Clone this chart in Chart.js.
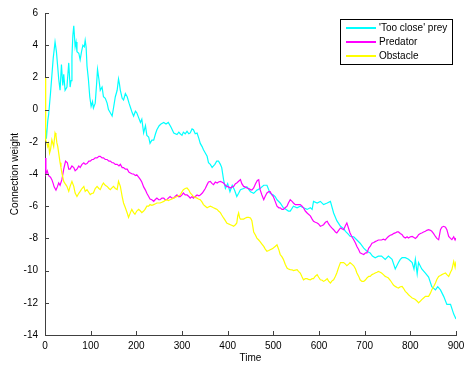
<!DOCTYPE html>
<html>
<head>
<meta charset="utf-8">
<script src="https://cdn.jsdelivr.net/npm/chart.js@4.4.0/dist/chart.umd.min.js"></script>
<style>
  html, body { margin: 0; padding: 0; background: #fff; }
  canvas { display: block; }
</style>
</head>
<body>
<canvas id="myChart" width="464" height="367"></canvas>
<script>
// data

const seriesNames = ["'Too close' prey", 'Predator', 'Obstacle']
const seriesColors = ['#00ffff', '#ff00ff', '#ffff00']

const xTicks = [0, 100, 200, 300, 400, 500, 600, 700, 800, 900]
const yTicks = [-14, -12, -10, -8, -6, -4, -2, 0, 2, 4, 6]

const preyX = [0, 3, 6, 8, 12, 15, 18, 22, 25, 28, 30, 33, 36, 39, 41, 44, 48, 52, 55, 57, 59, 61, 63, 66, 68, 70, 74, 77, 80, 83, 86, 88, 90, 92, 95, 98, 101, 104, 106, 110, 113, 115, 118, 121, 125, 128, 132, 136, 139, 143, 147, 150, 154, 158, 161, 163, 165, 169, 172, 176, 180, 184, 187, 191, 194, 198, 201, 205, 209, 212, 216, 220, 223, 227, 230, 234, 238, 242, 245, 250, 254, 260, 265, 270, 276, 282, 289, 293, 296, 300, 303, 307, 311, 315, 318, 322, 325, 329, 333, 337, 340, 344, 347, 351, 355, 358, 362, 366, 369, 372, 376, 380, 384, 387, 391, 395, 400, 405, 410, 415, 420, 424, 428, 435, 442, 450, 457, 464, 471, 479, 486, 493, 500, 504, 508, 515, 522, 528, 533, 537, 544, 552, 559, 566, 574, 581, 585, 588, 596, 603, 610, 618, 625, 632, 639, 647, 654, 658, 663, 668, 676, 683, 690, 698, 705, 712, 717, 723, 730, 737, 745, 752, 760, 767, 774, 778, 782, 789, 796, 804, 808, 811, 815, 818, 825, 833, 840, 847, 855, 860, 866, 873, 880, 888, 895, 900]
const preyY = [-0.8, -1.8, -0.7, -0.3, 1.0, 2.1, 3.2, 4.2, 3.6, 2.6, 1.9, 1.2, 2.8, 1.5, 2.2, 1.2, 1.4, 2.9, 1.4, 1.8, 3.3, 4.6, 5.2, 3.9, 4.2, 3.6, 3.5, 3.1, 3.6, 4.0, 3.9, 4.3, 3.9, 2.7, 1.9, 0.8, 0.2, 0.5, 0.1, 0.4, 1.6, 2.5, 1.9, 1.2, 1.4, 0.8, 0.7, 0.4, 0.0, -0.2, -0.4, 0.1, 0.8, 1.2, 1.9, 1.6, 1.2, 0.7, 0.6, 1.0, 0.8, 0.4, 0.15, -0.2, -0.4, -0.1, -0.2, -0.5, -0.8, -0.6, -1.45, -1.0, -1.6, -1.7, -2.1, -1.9, -1.9, -1.5, -1.25, -1.0, -0.9, -0.8, -0.9, -0.8, -1.1, -1.45, -1.55, -1.4, -1.5, -1.6, -1.4, -1.5, -1.35, -1.5, -1.45, -1.2, -1.25, -1.5, -1.45, -1.8, -2.1, -2.3, -2.5, -2.7, -2.9, -3.3, -3.4, -3.6, -3.5, -3.4, -3.2, -3.2, -3.4, -3.6, -4.35, -4.9, -4.6, -5.1, -4.7, -5.0, -5.4, -5.2, -4.97, -4.9, -4.8, -5.1, -5.2, -5.0, -4.9, -4.7, -4.7, -5.2, -5.3, -5.4, -5.6, -5.8, -6.1, -6.2, -6.3, -6.3, -6.0, -6.1, -6.0, -6.1, -6.2, -6.1, -6.2, -5.7, -5.8, -5.7, -5.9, -5.8, -5.7, -6.42, -6.9, -7.25, -7.4, -7.56, -7.7, -7.87, -7.9, -8.1, -8.3, -8.6, -8.8, -8.9, -9.1, -9.2, -9.1, -9.1, -9.3, -9.1, -9.3, -9.9, -9.5, -9.3, -9.2, -9.2, -9.3, -9.5, -9.9, -9.3, -10.2, -9.5, -9.9, -10.15, -10.4, -11.0, -11.2, -11.0, -11.2, -11.6, -12.1, -12.1, -12.7, -13.0]

const predX = [0, 2, 5, 8, 12, 15, 18, 20, 24, 27, 30, 33, 37, 41, 45, 49, 52, 55, 59, 63, 66, 70, 74, 77, 81, 85, 88, 92, 96, 99, 103, 106, 110, 114, 118, 121, 125, 128, 132, 136, 140, 143, 147, 150, 154, 158, 162, 165, 169, 172, 176, 180, 184, 187, 191, 194, 198, 201, 205, 209, 212, 216, 220, 223, 227, 230, 234, 238, 241, 245, 249, 252, 256, 260, 263, 267, 270, 274, 278, 282, 285, 289, 292, 296, 300, 303, 307, 311, 315, 318, 322, 325, 329, 333, 337, 340, 344, 347, 351, 355, 358, 362, 366, 369, 373, 377, 380, 384, 387, 391, 395, 398, 402, 406, 410, 413, 417, 420, 424, 428, 431, 435, 438, 442, 446, 450, 453, 457, 461, 465, 468, 471, 475, 479, 482, 486, 490, 493, 497, 500, 504, 508, 512, 515, 519, 522, 526, 530, 533, 537, 541, 544, 548, 552, 555, 559, 563, 566, 570, 574, 577, 581, 585, 588, 592, 596, 599, 603, 607, 610, 614, 618, 621, 625, 628, 632, 636, 639, 643, 647, 650, 654, 658, 661, 665, 668, 672, 676, 680, 683, 687, 690, 694, 698, 702, 705, 709, 712, 716, 720, 723, 727, 730, 734, 737, 741, 745, 748, 752, 756, 760, 763, 767, 771, 774, 778, 782, 785, 789, 793, 796, 800, 804, 808, 811, 815, 818, 822, 825, 829, 833, 836, 840, 844, 847, 851, 855, 858, 862, 866, 869, 873, 877, 880, 884, 888, 891, 895, 898, 900]
const predY = [-3.0, -4.0, -3.8, -4.1, -4.2, -4.35, -4.6, -4.8, -5.0, -4.8, -4.55, -4.7, -4.35, -3.7, -3.2, -3.3, -3.7, -3.7, -3.5, -3.6, -3.8, -3.7, -3.5, -3.6, -3.4, -3.3, -3.4, -3.35, -3.2, -3.2, -3.1, -3.1, -3.0, -3.0, -2.9, -2.9, -3.0, -3.0, -3.1, -3.1, -3.2, -3.2, -3.3, -3.3, -3.4, -3.4, -3.5, -3.4, -3.6, -3.6, -3.7, -3.7, -3.9, -3.94, -4.0, -4.0, -4.1, -4.05, -4.2, -4.35, -4.5, -4.8, -5.0, -5.2, -5.4, -5.55, -5.6, -5.7, -5.6, -5.5, -5.6, -5.6, -5.5, -5.5, -5.6, -5.6, -5.5, -5.4, -5.5, -5.5, -5.4, -5.3, -5.4, -5.4, -5.3, -5.18, -5.3, -5.3, -5.4, -5.5, -5.4, -5.5, -5.4, -5.3, -5.35, -5.3, -5.2, -5.08, -4.9, -4.66, -4.5, -4.46, -4.6, -4.66, -4.5, -4.56, -4.5, -4.46, -4.5, -4.56, -4.7, -4.77, -4.8, -4.87, -4.8, -4.77, -4.6, -4.56, -4.45, -4.35, -4.6, -4.77, -4.8, -4.87, -4.9, -4.97, -5.0, -4.87, -4.6, -4.4, -4.35, -4.97, -5.3, -5.6, -5.4, -5.18, -5.1, -5.1, -5.3, -5.4, -5.7, -6.0, -6.1, -6.1, -6.2, -6.2, -6.1, -6.0, -5.8, -5.6, -5.7, -5.8, -5.9, -5.9, -5.9, -5.9, -6.0, -6.1, -6.3, -6.42, -6.5, -6.6, -6.8, -6.94, -7.0, -7.04, -7.1, -7.25, -7.2, -7.15, -7.0, -6.94, -7.1, -7.25, -7.35, -7.46, -7.6, -7.66, -7.5, -7.35, -7.4, -7.46, -7.2, -7.04, -7.4, -7.66, -7.9, -8.08, -8.3, -8.5, -8.7, -8.9, -8.95, -9.0, -8.9, -8.9, -8.6, -8.5, -8.3, -8.25, -8.2, -8.15, -8.1, -8.1, -8.1, -8.05, -8.1, -8.0, -7.88, -7.8, -7.77, -7.7, -7.66, -7.6, -7.6, -7.7, -7.77, -7.9, -7.98, -7.9, -7.98, -7.9, -7.88, -7.95, -8.0, -7.9, -7.77, -7.7, -7.66, -7.6, -7.56, -7.5, -7.46, -7.5, -7.56, -7.7, -7.88, -8.0, -8.08, -7.46, -7.3, -7.25, -7.3, -7.46, -7.88, -8.0, -8.08, -7.9, -8.1, -7.98]

const obstX = [0, 1, 2, 4, 6, 8, 10, 12, 15, 19, 22, 24, 26, 28, 30, 33, 35, 37, 39, 41, 44, 48, 52, 55, 59, 63, 66, 70, 74, 77, 81, 85, 88, 92, 95, 99, 103, 106, 110, 114, 118, 121, 125, 128, 132, 136, 140, 143, 147, 150, 154, 158, 161, 165, 169, 172, 176, 180, 183, 187, 190, 194, 197, 201, 205, 209, 212, 216, 219, 223, 227, 230, 234, 238, 242, 245, 249, 252, 256, 260, 263, 267, 270, 274, 278, 282, 285, 289, 292, 296, 300, 303, 307, 311, 315, 318, 322, 325, 329, 333, 336, 340, 344, 347, 351, 355, 358, 362, 366, 369, 373, 377, 380, 384, 387, 391, 395, 398, 402, 406, 410, 413, 417, 420, 422, 424, 426, 428, 431, 435, 438, 442, 446, 450, 453, 457, 461, 464, 468, 471, 475, 479, 482, 486, 490, 493, 497, 500, 504, 508, 512, 515, 519, 522, 526, 530, 533, 537, 541, 544, 548, 552, 555, 559, 563, 566, 570, 574, 577, 581, 585, 588, 592, 596, 599, 603, 607, 610, 614, 618, 621, 625, 628, 632, 636, 639, 643, 647, 650, 654, 658, 661, 665, 668, 672, 676, 680, 683, 687, 690, 694, 698, 702, 705, 709, 712, 716, 720, 723, 727, 730, 734, 737, 741, 745, 748, 752, 756, 760, 763, 767, 771, 774, 778, 782, 785, 789, 793, 796, 800, 804, 808, 811, 815, 818, 822, 825, 829, 833, 836, 840, 844, 847, 851, 855, 858, 862, 866, 869, 873, 877, 880, 884, 888, 891, 895, 898, 900]
const obstY = [2.0, 0.0, -1.9, -2.07, -2.3, -2.1, -2.7, -2.5, -1.87, -2.3, -1.45, -1.6, -2.07, -2.3, -2.7, -3.3, -3.6, -3.94, -4.2, -4.46, -4.6, -4.77, -5.08, -4.77, -4.46, -4.77, -5.18, -5.4, -5.2, -5.08, -4.9, -4.77, -5.08, -4.97, -5.1, -5.28, -5.2, -5.18, -4.9, -4.77, -4.9, -4.97, -4.7, -4.56, -4.7, -4.77, -4.9, -4.97, -4.85, -4.77, -4.9, -4.97, -4.46, -4.77, -5.4, -5.8, -6.1, -6.42, -6.7, -6.4, -6.2, -6.4, -6.5, -6.3, -6.2, -6.3, -6.4, -6.3, -6.2, -6.0, -6.0, -5.9, -5.95, -5.9, -5.85, -5.8, -5.8, -5.8, -5.75, -5.7, -5.65, -5.6, -5.65, -5.6, -5.55, -5.5, -5.45, -5.4, -5.35, -5.3, -5.1, -4.97, -4.9, -4.87, -5.0, -5.18, -5.3, -5.4, -5.45, -5.5, -5.55, -5.6, -5.75, -5.9, -6.0, -6.1, -6.05, -6.0, -6.05, -6.1, -6.15, -6.2, -6.3, -6.4, -6.55, -6.73, -6.9, -7.04, -7.1, -7.15, -7.2, -7.25, -7.15, -7.04, -6.6, -6.42, -6.7, -6.8, -6.8, -6.8, -6.75, -6.7, -6.7, -6.73, -6.9, -7.6, -7.8, -7.98, -8.1, -8.2, -8.35, -8.5, -8.65, -8.8, -8.75, -8.7, -8.65, -8.6, -8.5, -8.4, -8.7, -9.0, -9.15, -9.3, -9.6, -9.84, -9.9, -9.94, -9.95, -10.0, -9.97, -9.94, -10.05, -10.15, -10.4, -10.57, -10.5, -10.5, -10.55, -10.57, -10.5, -10.5, -10.35, -10.25, -10.4, -10.57, -10.6, -10.67, -10.6, -10.5, -10.65, -10.77, -10.65, -10.57, -10.35, -10.15, -9.8, -9.5, -9.5, -9.5, -9.6, -9.7, -9.6, -9.5, -9.6, -9.7, -9.9, -10.15, -10.36, -10.57, -10.67, -10.67, -10.57, -10.46, -10.36, -10.36, -10.25, -10.2, -10.15, -10.1, -10.05, -10.1, -10.15, -10.25, -10.36, -10.4, -10.46, -10.6, -10.77, -10.9, -10.98, -11.05, -11.08, -11.0, -10.98, -11.1, -11.29, -11.4, -11.5, -11.6, -11.7, -11.75, -11.8, -11.9, -12.0, -11.9, -11.8, -11.7, -11.6, -11.6, -11.6, -11.4, -11.19, -11.0, -10.77, -10.55, -10.36, -10.3, -10.25, -10.2, -10.15, -10.25, -10.36, -10.1, -9.94, -9.43, -9.8, -9.43]


// helpers

function toPoints(xs, ys) {
    return xs.map((x, i) => ({ x: x, y: ys[i] }))
}

const axisColor = '#404040'
const fontName = '"Liberation Sans", Arial, Helvetica, sans-serif'

// ticks pointing inwards, axis titles and the boxed legend, MATLAB style
const matlabBits = {
    id: 'matlabBits',
    afterDraw(chart) {
        const c = chart.ctx
        const xs = chart.scales.x
        const ys = chart.scales.y
        const area = chart.chartArea
        c.save()
        c.strokeStyle = axisColor
        c.lineWidth = 1
        c.beginPath()
        xTicks.forEach(t => {
            const px = Math.round(xs.getPixelForValue(t)) + 0.5
            c.moveTo(px, area.bottom)
            c.lineTo(px, area.bottom - 4)
        })
        yTicks.forEach(t => {
            const py = Math.round(ys.getPixelForValue(t)) + 0.5
            c.moveTo(area.left, py)
            c.lineTo(area.left + 4, py)
        })
        c.stroke()

        // axis titles
        c.fillStyle = '#000'
        c.font = '10px ' + fontName
        c.textAlign = 'center'
        c.textBaseline = 'middle'
        c.fillText('Time', (area.left + area.right) / 2, 358)
        c.translate(15, (area.top + area.bottom) / 2)
        c.rotate(-Math.PI / 2)
        c.fillText('Connection weight', 0, 0)
        c.restore()

        // legend
        c.save()
        const bx = 340.5, by = 19.5, bw = 112, bh = 45
        c.fillStyle = '#fff'
        c.fillRect(bx, by, bw, bh)
        c.strokeStyle = '#000'
        c.lineWidth = 1
        c.strokeRect(bx, by, bw, bh)
        c.font = '10px ' + fontName
        c.textAlign = 'left'
        c.textBaseline = 'middle'
        seriesNames.forEach((name, i) => {
            const ly = 28 + i * 14
            c.strokeStyle = seriesColors[i]
            c.lineWidth = 2
            c.beginPath()
            c.moveTo(346, ly)
            c.lineTo(376, ly)
            c.stroke()
            c.fillStyle = '#000'
            c.fillText(name, 379, ly)
        })
        c.restore()
    }
}

const ctx = document.querySelector('#myChart').getContext('2d')

let chart = new Chart(ctx, {
    type: 'line',
    data: {
        datasets: [
            { label: seriesNames[0], data: toPoints(preyX, preyY), borderColor: seriesColors[0], order: 3 },
            { label: seriesNames[1], data: toPoints(predX, predY), borderColor: seriesColors[1], order: 2 },
            { label: seriesNames[2], data: toPoints(obstX, obstY), borderColor: seriesColors[2], order: 1 }
        ]
    },
    options: {
        responsive: false,
        animation: false,
        layout: { padding: { top: 13, right: 8, left: 0, bottom: 0 } },
        elements: {
            point: { radius: 0 },
            line: { borderWidth: 1.2, tension: 0 }
        },
        plugins: {
            legend: { display: false },
            tooltip: { enabled: false }
        },
        scales: {
            x: {
                type: 'linear',
                min: 0,
                max: 900,
                afterFit: s => { s.height = 32; s.paddingLeft = 0; s.paddingRight = 0 },
                afterBuildTicks: s => { s.ticks = xTicks.map(v => ({ value: v })) },
                grid: { display: false, drawTicks: false },
                border: { display: true, color: axisColor },
                ticks: { color: '#000', padding: 5, maxRotation: 0, font: { size: 10, family: fontName } }
            },
            y: {
                type: 'linear',
                min: -14,
                max: 6,
                afterFit: s => { s.width = 45; s.paddingTop = 0; s.paddingBottom = 0 },
                afterBuildTicks: s => { s.ticks = yTicks.map(v => ({ value: v })) },
                grid: { display: false, drawTicks: false },
                border: { display: true, color: axisColor },
                ticks: { color: '#000', padding: 7, font: { size: 10, family: fontName } }
            }
        }
    },
    plugins: [matlabBits]
})
</script>
</body>
</html>
